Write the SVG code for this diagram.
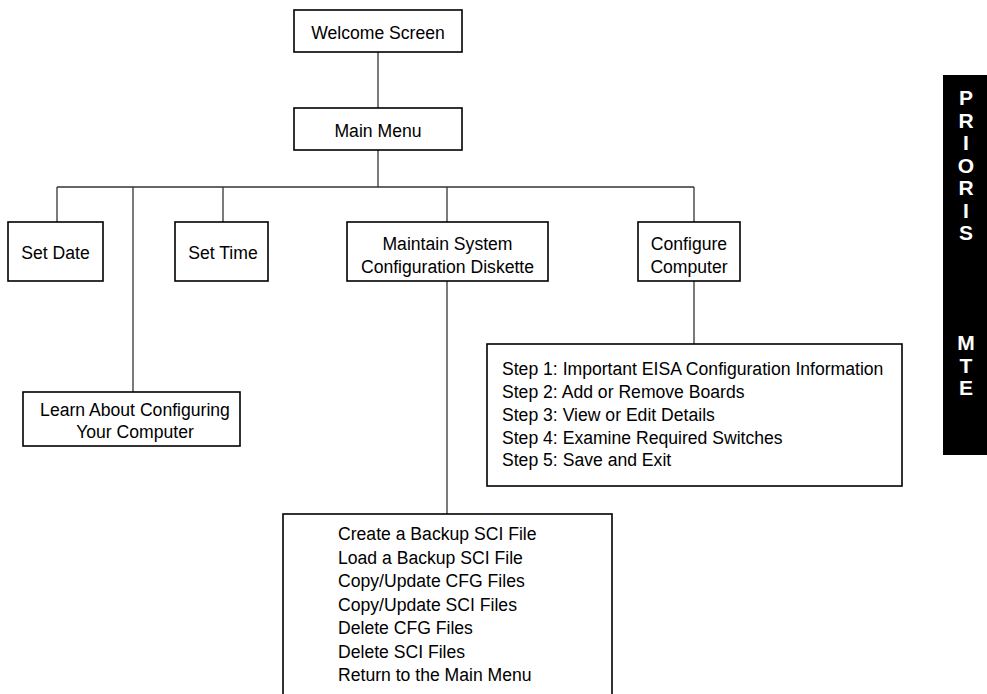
<svg xmlns="http://www.w3.org/2000/svg" width="987" height="694" viewBox="0 0 987 694">
<style>
.box{fill:#fff;stroke:#000;stroke-width:1.6}
.t{font-family:"Liberation Sans",Arial,sans-serif;font-size:17.6px;fill:#000}
.c{text-anchor:middle}
.ln{stroke:#333;stroke-width:1.3;fill:none}
.side{font-family:"Liberation Sans",Arial,sans-serif;font-size:21px;font-weight:bold;fill:#fff;text-anchor:middle}
</style>
<rect width="987" height="694" fill="#fff"/>
<g id="connectors">
<line class="ln" x1="378" y1="52" x2="378" y2="108"/>
<line class="ln" x1="378" y1="150" x2="378" y2="187"/>
<line class="ln" x1="57" y1="187" x2="694" y2="187"/>
<line class="ln" x1="57" y1="187" x2="57" y2="222"/>
<line class="ln" x1="133" y1="187" x2="133" y2="392"/>
<line class="ln" x1="223" y1="187" x2="223" y2="222"/>
<line class="ln" x1="447" y1="187" x2="447" y2="222"/>
<line class="ln" x1="694" y1="187" x2="694" y2="222"/>
<line class="ln" x1="447" y1="281" x2="447" y2="514"/>
<line class="ln" x1="694" y1="281" x2="694" y2="344"/>
</g>
<g id="welcome">
<rect class="box" x="294" y="10" width="168" height="42"/>
<text class="t c" x="378" y="39">Welcome Screen</text>
</g>
<g id="main-menu">
<rect class="box" x="294" y="108" width="168" height="42"/>
<text class="t c" x="378" y="137">Main Menu</text>
</g>
<g id="set-date">
<rect class="box" x="8" y="222" width="95" height="59"/>
<text class="t c" x="55.5" y="259">Set Date</text>
</g>
<g id="set-time">
<rect class="box" x="175" y="222" width="93" height="59"/>
<text class="t c" x="223" y="259">Set Time</text>
</g>
<g id="maintain">
<rect class="box" x="347" y="222" width="201" height="59"/>
<text class="t c" x="447.5" y="250">Maintain System</text>
<text class="t c" x="447.5" y="273">Configuration Diskette</text>
</g>
<g id="configure">
<rect class="box" x="638" y="222" width="102" height="59"/>
<text class="t c" x="689" y="250">Configure</text>
<text class="t c" x="689" y="273">Computer</text>
</g>
<g id="learn">
<rect class="box" x="23" y="392" width="217" height="54"/>
<text class="t c" x="135" y="416">Learn About Configuring</text>
<text class="t c" x="135" y="438">Your Computer</text>
</g>
<g id="steps">
<rect class="box" x="487" y="344" width="415" height="142"/>
<text class="t" x="502" y="375">Step 1: Important EISA Configuration Information</text>
<text class="t" x="502" y="398">Step 2: Add or Remove Boards</text>
<text class="t" x="502" y="421">Step 3: View or Edit Details</text>
<text class="t" x="502" y="444">Step 4: Examine Required Switches</text>
<text class="t" x="502" y="466">Step 5: Save and Exit</text>
</g>
<g id="diskette-menu">
<rect class="box" x="283" y="514" width="329" height="190"/>
<text class="t" x="338" y="540">Create a Backup SCI File</text>
<text class="t" x="338" y="563.5">Load a Backup SCI File</text>
<text class="t" x="338" y="587">Copy/Update CFG Files</text>
<text class="t" x="338" y="610.5">Copy/Update SCI Files</text>
<text class="t" x="338" y="634">Delete CFG Files</text>
<text class="t" x="338" y="657.5">Delete SCI Files</text>
<text class="t" x="338" y="681">Return to the Main Menu</text>
</g>
<g id="side-tab">
<rect x="943" y="75" width="44" height="380" fill="#000"/>
<text class="side" x="966" y="105">P</text>
<text class="side" x="966" y="127.5">R</text>
<text class="side" x="966" y="150">I</text>
<text class="side" x="966" y="172.5">O</text>
<text class="side" x="966" y="195">R</text>
<text class="side" x="966" y="217.5">I</text>
<text class="side" x="966" y="240">S</text>
<text class="side" x="966" y="350">M</text>
<text class="side" x="966" y="372.5">T</text>
<text class="side" x="966" y="395">E</text>
</g>
</svg>
